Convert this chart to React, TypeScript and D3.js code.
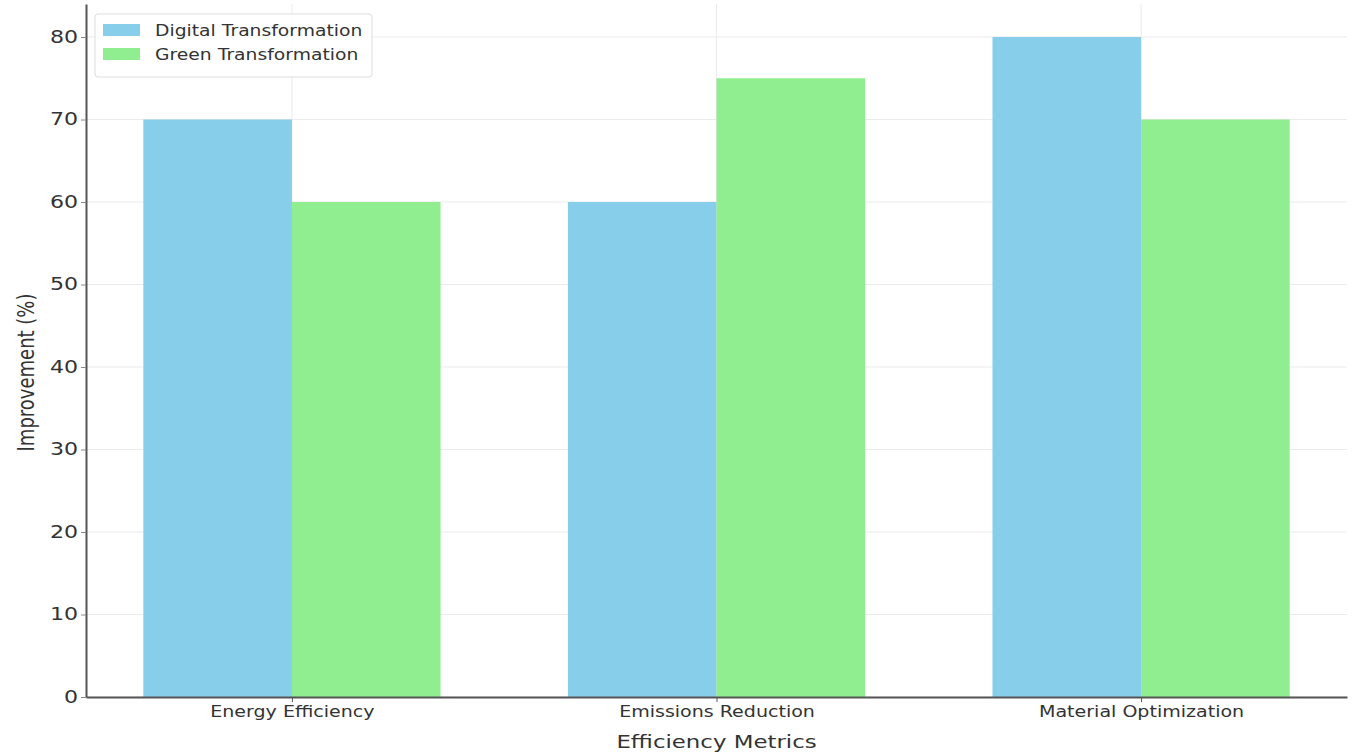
import { useEffect, useRef } from "react";
import { axisBottom, axisLeft, scaleLinear, select } from "d3";

const categories = ["Energy Efficiency", "Emissions Reduction", "Material Optimization"];
const digital = [70, 60, 80];
const green = [60, 75, 70];
const seriesNames = ["Digital Transformation", "Green Transformation"];
const seriesColors = ["#87CEEB", "#90EE90"];
const yTicks = [0, 10, 20, 30, 40, 50, 60, 70, 80];

const width = 1356;
const height = 753;
const marginLeft = 86;
const marginRight = 9;
const marginTop = 4;
const marginBottom = 56;
const font = "'DejaVu Sans', sans-serif";
// the reference text is stretched sideways
const sx = 1.27;

export default function App() {
  const gx = useRef<SVGGElement>(null);
  const gy = useRef<SVGGElement>(null);

  // bars 0.35 wide on each side of the category center, 5% margins
  const barW = 0.35;
  const x = scaleLinear([-barW - 0.135, 2 + barW + 0.135], [marginLeft, width - marginRight]);
  const y = scaleLinear([0, 84], [height - marginBottom, marginTop]);
  const series = [digital, green];

  useEffect(() => {
    const ax = axisBottom(x)
      .tickValues(categories.map((_, i) => i))
      .tickFormat((_, i) => categories[i])
      .tickSizeInner(5)
      .tickSizeOuter(0)
      .tickPadding(4);
    const g = select(gx.current!).call(ax as any);
    g.select(".domain").attr("stroke", "#555").attr("stroke-width", 2);
    g.selectAll(".tick line").attr("stroke", "#555");
    g.selectAll(".tick text")
      .attr("font-family", font)
      .attr("font-size", 15)
      .attr("fill", "#333")
      .attr("transform", `scale(${sx},1)`);
  }, []);

  useEffect(() => {
    const ax = axisLeft(y).tickValues(yTicks).tickSizeInner(5).tickSizeOuter(0).tickPadding(5);
    const g = select(gy.current!).call(ax as any);
    g.select(".domain").attr("stroke", "#555").attr("stroke-width", 2);
    g.selectAll(".tick line").attr("stroke", "#888");
    g.selectAll(".tick text")
      .attr("font-family", font)
      .attr("font-size", 17)
      .attr("fill", "#333")
      .attr("x", 0)
      .attr("transform", `translate(-8,0) scale(1.3,1)`);
  }, []);

  return (
    <svg
      width={width}
      height={height}
      style={{ position: "absolute", left: 0, top: 0, background: "#fff" }}
    >
      {/* grid */}
      <g>
        {yTicks.map((t) => (
          <line key={"h" + t} x1={marginLeft} x2={width - marginRight} y1={y(t)} y2={y(t)} stroke="#ebebeb" strokeWidth={1} />
        ))}
        {categories.map((_, i) => (
          <line key={"v" + i} x1={x(i)} x2={x(i)} y1={marginTop} y2={height - marginBottom} stroke="#ebebeb" strokeWidth={1} />
        ))}
      </g>
      {/* bars */}
      {series.map((vals, s) => (
        <g key={s} fill={seriesColors[s]}>
          {vals.map((v, i) => {
            const x0 = s === 0 ? x(i - barW) : x(i);
            const x1 = s === 0 ? x(i) : x(i + barW);
            return <rect key={i} x={x0} width={x1 - x0} y={y(v)} height={y(0) - y(v)} />;
          })}
        </g>
      ))}
      <g ref={gx} transform={`translate(0,${height - marginBottom})`} />
      <g ref={gy} transform={`translate(${marginLeft},0)`} />
      {/* axis titles */}
      <text
        transform={`translate(${(marginLeft + width - marginRight) / 2},748) scale(${sx},1)`}
        textAnchor="middle"
        fontFamily={font}
        fontSize={18}
        fill="#333"
      >
        Efficiency Metrics
      </text>
      <text
        transform={`translate(34,${(marginTop + height - marginBottom) / 2 + 22}) rotate(-90) scale(1,${sx})`}
        textAnchor="middle"
        fontFamily={font}
        fontSize={18}
        fill="#333"
      >
        Improvement (%)
      </text>
      {/* legend */}
      <g transform="translate(95,14)">
        <rect x={0} y={0} width={277} height={63} rx={3} fill="#fff" fillOpacity={0.8} stroke="#ddd" />
        {seriesNames.map((n, i) => (
          <g key={n} transform={`translate(8,${10 + i * 24})`}>
            <rect x={0} y={0} width={37} height={12} fill={seriesColors[i]} />
            <text transform={`translate(52,12) scale(1.25,1)`} fontFamily={font} fontSize={15} fill="#333">
              {n}
            </text>
          </g>
        ))}
      </g>
    </svg>
  );
}
